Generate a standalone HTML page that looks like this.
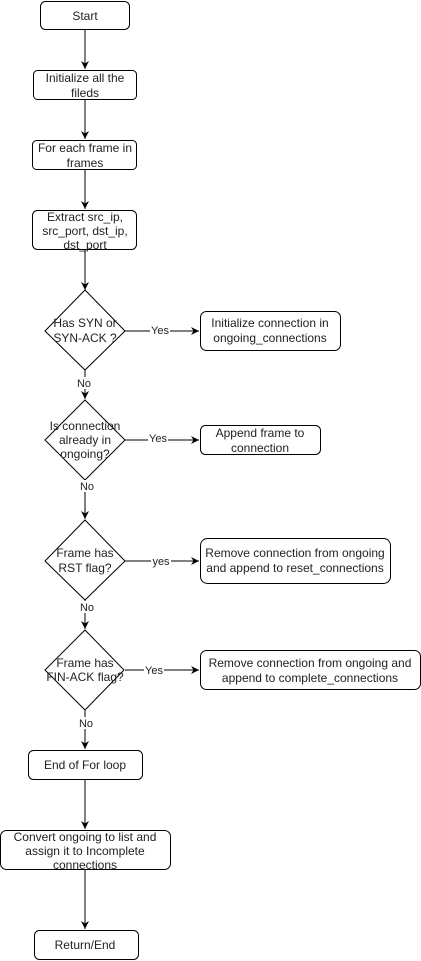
<!DOCTYPE html>
<html><head><style>
html,body{margin:0;padding:0;background:#fff;}
svg{display:block;}
text{font-family:"Liberation Sans",sans-serif;font-size:12px;fill:#222;text-anchor:middle;}
.b{fill:#fff;stroke:#000;stroke-width:1;}
.l{stroke:#000;stroke-width:1;fill:none;}
.lab{font-size:11px;}
</style></head><body>
<svg width="421" height="961" viewBox="0 0 421 961" xmlns="http://www.w3.org/2000/svg">
<defs><marker id="a" markerWidth="10" markerHeight="10" refX="8" refY="4.5" orient="auto" markerUnits="userSpaceOnUse"><path d="M0,0.5 L8,4.5 L0,8.5 L2.5,4.5 Z" fill="#000"/></marker></defs>
<line class="l" x1="85" y1="30" x2="85" y2="69" marker-end="url(#a)"/>
<line class="l" x1="85" y1="100" x2="85" y2="139" marker-end="url(#a)"/>
<line class="l" x1="85" y1="170" x2="85" y2="209" marker-end="url(#a)"/>
<line class="l" x1="85" y1="250" x2="85" y2="290" marker-end="url(#a)"/>
<line class="l" x1="85" y1="370" x2="85" y2="399" marker-end="url(#a)"/>
<line class="l" x1="85" y1="480" x2="85" y2="519" marker-end="url(#a)"/>
<line class="l" x1="85" y1="600" x2="85" y2="629" marker-end="url(#a)"/>
<line class="l" x1="85" y1="710" x2="85" y2="749" marker-end="url(#a)"/>
<line class="l" x1="85" y1="780" x2="85" y2="829" marker-end="url(#a)"/>
<line class="l" x1="85" y1="870" x2="85" y2="929" marker-end="url(#a)"/>
<line class="l" x1="125" y1="331" x2="199" y2="331" marker-end="url(#a)"/>
<line class="l" x1="125" y1="440" x2="199" y2="440" marker-end="url(#a)"/>
<line class="l" x1="125" y1="561" x2="199" y2="561" marker-end="url(#a)"/>
<line class="l" x1="125" y1="670" x2="199" y2="670" marker-end="url(#a)"/>
<rect class="b" x="40.5" y="1.5" width="89" height="28" rx="5"/>
<text x="85" y="20">Start</text>
<rect class="b" x="33.5" y="70.5" width="103" height="29" rx="4"/>
<text x="85" y="82">Initialize all the</text><text x="85" y="97">fileds</text>
<rect class="b" x="32.5" y="140.5" width="104" height="29" rx="4"/>
<text x="85" y="152">For each frame in</text><text x="85" y="167">frames</text>
<rect class="b" x="32.5" y="210.5" width="104" height="39" rx="5"/>
<text x="85" y="221">Extract src_ip,</text><text x="85" y="235">src_port, dst_ip,</text><text x="85" y="249">dst_port</text>
<polygon class="b" points="85,290 125,331 85,370 45,331"/>
<text x="85" y="327">Has SYN or</text><text x="85" y="342">SYN-ACK ?</text>
<polygon class="b" points="85,400 125,440 85,480 45,440"/>
<text x="85" y="430">Is connection</text><text x="85" y="444">already in</text><text x="85" y="458">ongoing?</text>
<polygon class="b" points="85,520 125,561 85,600 45,561"/>
<text x="85" y="557">Frame has</text><text x="85" y="572">RST flag?</text>
<polygon class="b" points="85,630 124,670 85,710 45,670"/>
<text x="85" y="667">Frame has</text><text x="85" y="681">FIN-ACK flag?</text>
<rect class="b" x="200.5" y="311.5" width="140" height="39" rx="6"/>
<text x="270" y="327">Initialize connection in</text><text x="270" y="342">ongoing_connections</text>
<rect class="b" x="200.5" y="425.5" width="120" height="29" rx="5"/>
<text x="260" y="437">Append frame to</text><text x="260" y="452">connection</text>
<rect class="b" x="200.5" y="538.5" width="190" height="45" rx="7"/>
<text x="295" y="557">Remove connection from ongoing</text><text x="295" y="572">and append to reset_connections</text>
<rect class="b" x="200.5" y="650.5" width="220" height="39" rx="6"/>
<text x="310" y="667">Remove connection from ongoing and</text><text x="310" y="682">append to complete_connections</text>
<rect class="b" x="28.5" y="750.5" width="114" height="29" rx="5"/>
<text x="85" y="769">End of For loop</text>
<rect class="b" x="0.5" y="830.5" width="170" height="39" rx="6"/>
<text x="85" y="841">Convert ongoing to list and</text><text x="85" y="855">assign it to Incomplete</text><text x="85" y="869">connections</text>
<rect class="b" x="34.5" y="930.5" width="104" height="29" rx="5"/>
<text x="85" y="949">Return/End</text>
<rect x="150" y="324" width="20" height="12" fill="#fff"/><text class="lab" x="160" y="334">Yes</text>
<rect x="148" y="432" width="20" height="12" fill="#fff"/><text class="lab" x="158" y="442">Yes</text>
<rect x="151" y="555" width="20" height="12" fill="#fff"/><text class="lab" x="161" y="565">yes</text>
<rect x="144" y="664" width="20" height="12" fill="#fff"/><text class="lab" x="154" y="674">Yes</text>
<rect x="75" y="377" width="18" height="12" fill="#fff"/><text class="lab" x="84" y="387">No</text>
<rect x="78" y="480" width="18" height="12" fill="#fff"/><text class="lab" x="87" y="490">No</text>
<rect x="78" y="601" width="18" height="12" fill="#fff"/><text class="lab" x="87" y="611">No</text>
<rect x="77" y="717" width="18" height="12" fill="#fff"/><text class="lab" x="86" y="727">No</text>
</svg>
</body></html>
